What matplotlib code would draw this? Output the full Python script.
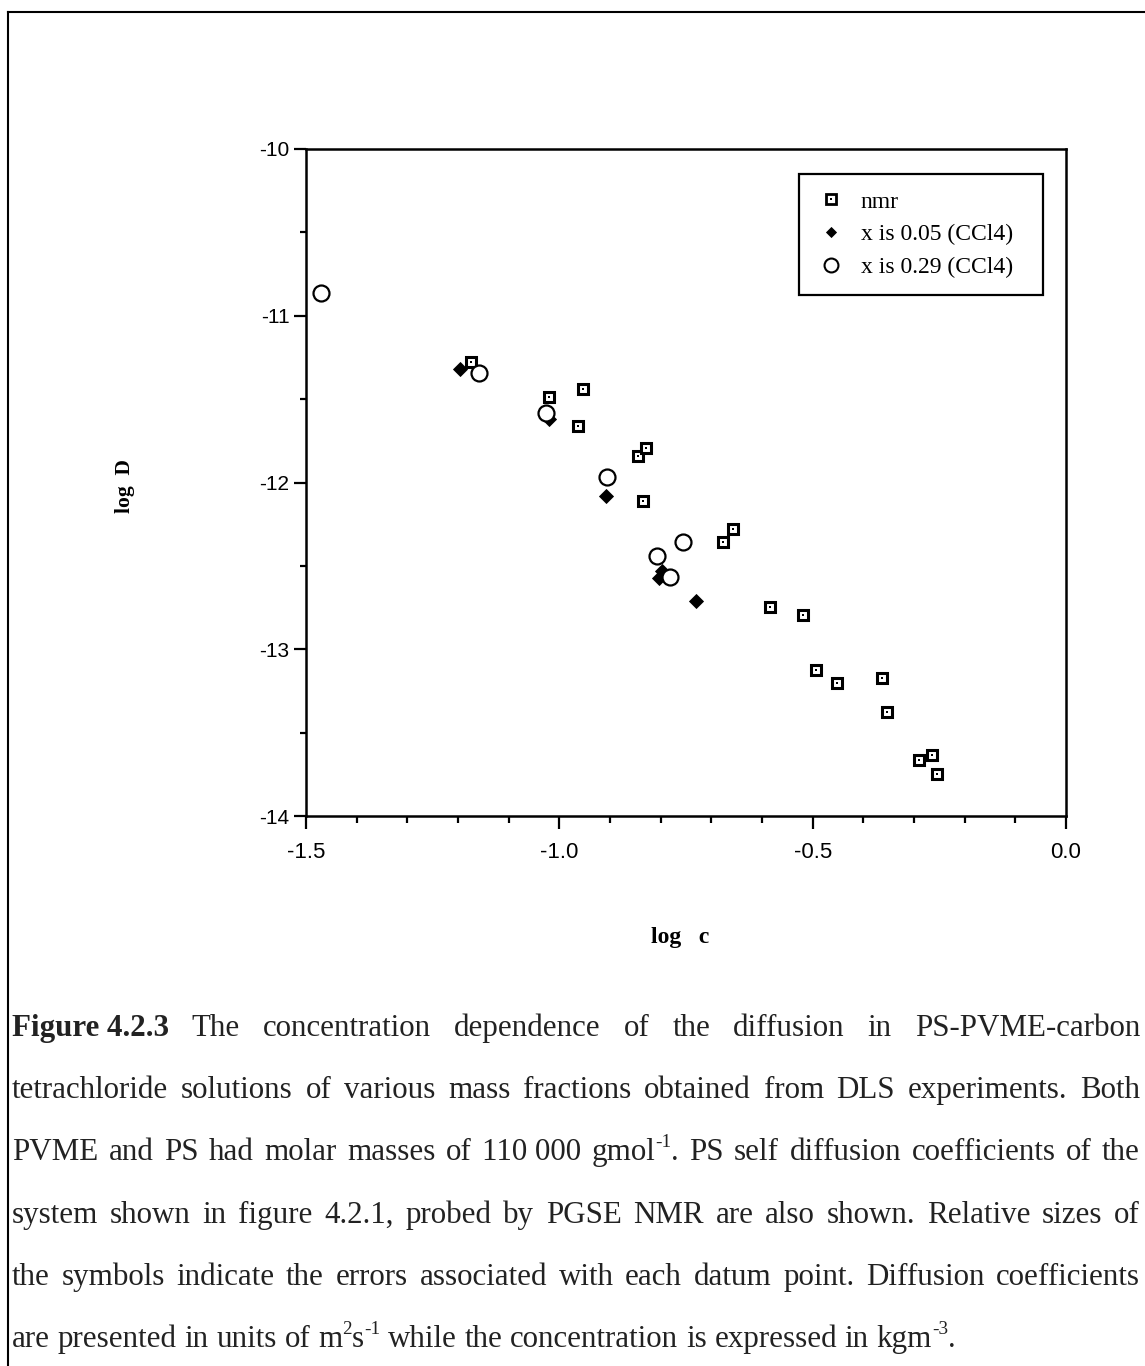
import matplotlib
matplotlib.use("Agg")
import matplotlib.pyplot as plt
from matplotlib.lines import Line2D
from matplotlib.legend_handler import HandlerTuple
from matplotlib.ticker import FixedLocator, MultipleLocator

# ---------------------------------------------------------------- data
# PGSE NMR self diffusion of PS
nmr_logc = [-1.174, -1.020, -0.953, -0.963, -0.845, -0.829, -0.835,
            -0.677, -0.657, -0.584, -0.519, -0.493, -0.452, -0.363,
            -0.353, -0.290, -0.265, -0.255]
nmr_logD = [-11.277, -11.487, -11.439, -11.661, -11.841, -11.793, -12.111,
            -12.357, -12.279, -12.747, -12.795, -13.124, -13.202, -13.172,
            -13.376, -13.664, -13.634, -13.748]

# DLS, PVME mass fraction x = 0.05 in CCl4
x005_logc = [-1.196, -1.020, -0.908, -0.797, -0.803, -0.730]
x005_logD = [-11.319, -11.619, -12.081, -12.530, -12.570, -12.711]

# DLS, PVME mass fraction x = 0.29 in CCl4
x029_logc = [-1.470, -1.159, -1.026, -0.906, -0.756, -0.807, -0.782]
x029_logD = [-10.864, -11.343, -11.583, -11.967, -12.357, -12.441, -12.567]

xticks = [-1.5, -1.0, -0.5, 0.0]
xticklabels = ["-1.5", "-1.0", "-0.5", "0.0"]
yticks = [-14, -13, -12, -11, -10]
yticklabels = ["-14", "-13", "-12", "-11", "-10"]
legend_labels = ["nmr", "x is 0.05 (CCl4)", "x is 0.29 (CCl4)"]

# caption: each line is a list of (text, style) pieces; "~" is an unbreakable space
caption_lines = [
    [("Figure~4.2.3", "b"), (" The concentration dependence of the diffusion in PS-PVME-carbon", "r")],
    [("tetrachloride solutions of various mass fractions obtained from DLS experiments. Both", "r")],
    [("PVME and PS had molar masses of 110~000 gmol", "r"), ("-1", "sup"),
     (". PS self diffusion coefficients of the", "r")],
    [("system shown in figure 4.2.1, probed by PGSE NMR are also shown. Relative sizes of", "r")],
    [("the symbols indicate the errors associated with each datum point. Diffusion coefficients", "r")],
    [("are presented in units of m", "r"), ("2", "sup"), ("s", "r"), ("-1", "sup"),
     (" while the concentration is expressed in kgm", "r"), ("-3", "sup"), (".", "r")],
]

# ---------------------------------------------------------------- figure
W, H, DPI = 1145, 1366, 100
SERIF = "Liberation Serif"
SANS = "Liberation Sans"

fig = plt.figure(figsize=(W / DPI, H / DPI), dpi=DPI, facecolor="white")
ax = fig.add_axes([306 / W, 1 - 816 / H, 760 / W, 667 / H])

ax.set_xlim(-1.5, 0.0)
ax.set_ylim(-14, -10)

# markers
ax.plot(x005_logc, x005_logD, ls="none", marker="D", ms=6.8, mfc="black",
        mec="black", mew=0.6, zorder=3)
ax.plot(nmr_logc, nmr_logD, ls="none", marker="s", ms=7.6, mfc="white",
        mec="black", mew=2.2, zorder=4)
ax.plot(nmr_logc, nmr_logD, ls="none", marker="s", ms=1.9, mfc="black",
        mec="black", mew=0, zorder=4.5)
ax.plot(x029_logc, x029_logD, ls="none", marker="o", ms=11.5, mfc="white",
        mec="black", mew=1.6, zorder=5)

# axes frame and ticks
for sp in ax.spines.values():
    sp.set_linewidth(1.8)
ax.xaxis.set_major_locator(FixedLocator(xticks))
ax.xaxis.set_minor_locator(MultipleLocator(0.1))
ax.yaxis.set_major_locator(FixedLocator(yticks))
ax.yaxis.set_minor_locator(MultipleLocator(0.5))
ax.set_xticklabels(xticklabels)
ax.set_yticklabels(yticklabels)
ax.tick_params(axis="x", which="major", direction="out", length=9.5, width=1.6,
               pad=9, labelsize=16, top=False)
ax.tick_params(axis="x", which="minor", direction="out", length=5, width=1.6,
               top=False)
ax.tick_params(axis="y", which="major", direction="out", length=9, width=1.6,
               pad=3, labelsize=15, right=False)
ax.tick_params(axis="y", which="minor", direction="out", length=4.5, width=1.6,
               right=False)
for lab in ax.get_xticklabels() + ax.get_yticklabels():
    lab.set_fontfamily(SANS)

# axis titles
fig.text(125 / W, 1 - 486 / H, "log  D", rotation=90, ha="center", va="center",
         family=SERIF, weight="bold", fontsize=15.5)
fig.text(680 / W, 1 - 938 / H, "log   c", ha="center", va="center",
         family=SERIF, weight="bold", fontsize=17)

# legend
h_sq = Line2D([], [], ls="none", marker="s", ms=6.8, mfc="white", mec="black", mew=2.0)
h_dot = Line2D([], [], ls="none", marker="s", ms=1.8, mfc="black", mec="black", mew=0)
h_dia = Line2D([], [], ls="none", marker="D", ms=5.6, mfc="black", mec="black", mew=0.6)
h_cir = Line2D([], [], ls="none", marker="o", ms=10, mfc="white", mec="black", mew=1.5)
leg = ax.legend([(h_sq, h_dot), h_dia, h_cir], legend_labels,
                handler_map={tuple: HandlerTuple(ndivide=1, pad=0)},
                loc="upper left", mode="expand",
                bbox_to_anchor=(799 / W, 1 - 297 / H, 244 / W, 123 / H),
                bbox_transform=fig.transFigure, borderaxespad=0,
                frameon=True, fancybox=False, shadow=False, framealpha=1,
                edgecolor="black", prop={"family": SERIF, "size": 17},
                borderpad=0.72, handlelength=1.23, handletextpad=0.66,
                labelspacing=0.47)
leg.get_frame().set_linewidth(1.6)

# page frame (top and left rules)
fig.add_artist(Line2D([8 / W, 8 / W], [0, 1 - 12 / H], transform=fig.transFigure,
                      color="black", lw=1.5))
fig.add_artist(Line2D([8 / W, 1], [1 - 12 / H, 1 - 12 / H], transform=fig.transFigure,
                      color="black", lw=1.5))

# ---------------------------------------------------------------- caption
CAP_SIZE = 22.3
X_LEFT, X_RIGHT = 12, 1140
BASE0, LEAD = 1036, 62.2
renderer = fig.canvas.get_renderer()


def piece_props(style):
    if style == "b":
        return dict(family=SERIF, weight="bold", fontsize=CAP_SIZE)
    if style == "sup":
        return dict(family=SERIF, weight="normal", fontsize=CAP_SIZE * 0.62)
    return dict(family=SERIF, weight="normal", fontsize=CAP_SIZE)


def split_words(pieces):
    words, cur = [], []
    for text, style in pieces:
        parts = text.split(" ")
        for i, part in enumerate(parts):
            if i > 0:
                if cur:
                    words.append(cur)
                cur = []
            if part:
                cur.append((part.replace("~", " "), style))
    if cur:
        words.append(cur)
    return words


def measure(text, style):
    t = fig.text(0, 0, text, **piece_props(style))
    w = t.get_window_extent(renderer).width
    t.remove()
    return w


space_w = measure("a a", "r") - measure("aa", "r")
px_pt = DPI / 72.0

for li, pieces in enumerate(caption_lines):
    words = split_words(pieces)
    widths = [[measure(t, s) for t, s in w] for w in words]
    word_w = [sum(ws) for ws in widths]
    last = li == len(caption_lines) - 1
    if last or len(words) < 2:
        gap = space_w
    else:
        gap = (X_RIGHT - X_LEFT - sum(word_w)) / (len(words) - 1)
    base = BASE0 + li * LEAD
    x = X_LEFT
    for w, ws in zip(words, widths):
        xx = x
        for (text, style), pw in zip(w, ws):
            yy = base - (CAP_SIZE * 0.42 * px_pt if style == "sup" else 0)
            fig.text(xx / W, 1 - yy / H, text, ha="left", va="baseline",
                     color="#222222", **piece_props(style))
            xx += pw
        x += sum(ws) + gap

fig.savefig("out.png", dpi=DPI, facecolor="white")
